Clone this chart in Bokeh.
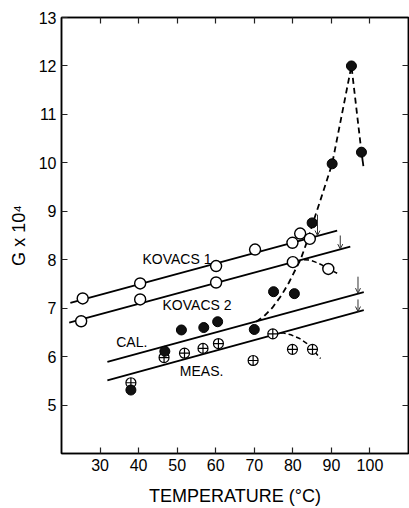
from bokeh.plotting import figure
from bokeh.models import LinearAxis, FixedTicker, Arrow, OpenHead
from bokeh.embed import file_html
from bokeh.resources import INLINE
from bokeh.core.properties import value

# ---- data ----
x_ticks = [30, 40, 50, 60, 70, 80, 90, 100]
y_ticks = [5, 6, 7, 8, 9, 10, 11, 12, 13]

kov1_x = [25.5, 40.4, 60.1, 70.2, 79.9, 81.9, 84.4]
kov1_y = [7.20, 7.51, 7.87, 8.21, 8.35, 8.54, 8.43]
kov2_x = [25.1, 40.4, 60.1, 80.0, 89.2]
kov2_y = [6.73, 7.18, 7.53, 7.95, 7.81]

dark_x = [38.0, 46.8, 51.1, 56.9, 60.5, 70.0, 75.0, 80.4, 85.0, 90.2, 95.2, 97.8]
dark_y = [5.31, 6.11, 6.55, 6.60, 6.72, 6.56, 7.34, 7.30, 8.76, 9.98, 12.0, 10.22]

cross_x = [38.0, 46.6, 51.9, 56.7, 60.7, 69.7, 74.8, 79.9, 85.1]
cross_y = [5.46, 5.98, 6.07, 6.17, 6.27, 5.92, 6.47, 6.15, 6.15]

kov1_line_x = [22.3, 91.5]
kov1_line_y = [7.11, 8.60]
kov2_line_x = [22.0, 94.9]
kov2_line_y = [6.70, 8.27]
cal_line_x = [31.9, 98.4]
cal_line_y = [5.89, 7.33]
meas_line_x = [31.9, 98.4]
meas_line_y = [5.51, 6.96]

peak_x = [70.5, 72.5, 74.7, 77.0, 79.0, 80.7, 82.0, 83.7, 85.5, 87.2, 90.2, 95.2, 97.8]
peak_y = [6.72, 6.83, 7.01, 7.26, 7.53, 7.80, 8.00, 8.38, 8.83, 9.24, 9.98, 12.0, 10.22]
tail_x = [97.8, 98.3]
tail_y = [10.22, 9.93]

kov2_dash_x = [82.9, 84.5, 85.9, 87.6, 89.2, 91.5]
kov2_dash_y = [8.00, 7.99, 7.95, 7.89, 7.81, 7.72]

meas_dash_x = [74.8, 77.3, 79.5, 81.6, 83.5, 85.1, 87.2]
meas_dash_y = [6.47, 6.49, 6.45, 6.38, 6.28, 6.15, 5.96]

arrow_x = [86.4, 92.3, 96.9, 96.9]
arrow_y0 = [8.93, 8.50, 7.65, 7.18]
arrow_y1 = [8.50, 8.22, 7.31, 6.93]

curve_labels = ["KOVACS 1", "KOVACS 2", "CAL.", "MEAS."]
label_x = [41.0, 46.2, 34.2, 50.7]
label_y = [8.01, 7.06, 6.31, 5.70]

FONT = "Liberation Sans"

p = figure(width=409, height=508, x_range=(20, 110), y_range=(4, 13),
           output_backend="svg", toolbar_location=None,
           min_border_left=61, min_border_right=1, min_border_top=17,
           min_border_bottom=55)
p.grid.visible = False
p.outline_line_color = "black"
p.outline_line_width = 1.5
p.background_fill_color = "white"
p.border_fill_color = "white"

def style_axis(ax, ticks, show_labels):
    ax.ticker = FixedTicker(ticks=ticks)
    ax.major_tick_in = 6
    ax.major_tick_out = 0
    ax.minor_tick_in = 0
    ax.minor_tick_out = 0
    ax.axis_line_color = "black"
    ax.axis_line_width = 1.5
    ax.major_tick_line_width = 1.2
    ax.major_tick_line_color = "#222"
    if show_labels:
        ax.major_label_text_font = FONT
        ax.major_label_text_font_size = "16px"
        ax.major_label_text_color = "black"
        ax.major_label_standoff = 5
    else:
        ax.major_label_text_font_size = "1px"
        ax.major_label_text_color = None
        ax.major_label_standoff = 0

style_axis(p.xaxis[0], x_ticks, True)
style_axis(p.yaxis[0], y_ticks, True)
p.xaxis[0].axis_label = "TEMPERATURE (°C)"
p.xaxis[0].axis_label_text_font = FONT
p.xaxis[0].axis_label_text_font_size = "18px"
p.xaxis[0].axis_label_text_font_style = "normal"
p.xaxis[0].axis_label_text_color = "black"
p.xaxis[0].axis_label_standoff = 12

p.yaxis[0].axis_label = "G x 10⁴"
p.yaxis[0].axis_label_text_font = FONT
p.yaxis[0].axis_label_text_font_size = "18px"
p.yaxis[0].axis_label_text_font_style = "normal"
p.yaxis[0].axis_label_text_color = "black"
p.yaxis[0].axis_label_standoff = 7

top = LinearAxis()
style_axis(top, x_ticks, False)
p.add_layout(top, "above")
right = LinearAxis()
style_axis(right, y_ticks[:-1], False)
p.add_layout(right, "right")

# straight fitted lines
for lx, ly in [(kov1_line_x, kov1_line_y), (kov2_line_x, kov2_line_y),
               (cal_line_x, cal_line_y), (meas_line_x, meas_line_y)]:
    p.line(lx, ly, line_color="black", line_width=1.8)

# dashed curves
p.line(peak_x, peak_y, line_color="black", line_width=1.8, line_dash="6 4")
p.line(tail_x, tail_y, line_color="black", line_width=1.8)
p.line(kov2_dash_x, kov2_dash_y, line_color="black", line_width=1.5, line_dash="5 3")
p.line(meas_dash_x, meas_dash_y, line_color="black", line_width=1.5, line_dash="5 3")

# markers
p.scatter(kov1_x, kov1_y, marker="circle", size=11, fill_color="white",
          line_color="black", line_width=1.4)
p.scatter(kov2_x, kov2_y, marker="circle", size=11, fill_color="white",
          line_color="black", line_width=1.4)
p.scatter(cross_x, cross_y, marker="circle_cross", size=10, fill_color="white",
          line_color="black", line_width=1.2)
p.scatter(dark_x, dark_y, marker="circle", size=10, fill_color="#111111",
          line_color="black", line_width=1.0)

# arrows
for ax_, y0, y1 in zip(arrow_x, arrow_y0, arrow_y1):
    p.add_layout(Arrow(end=OpenHead(size=5, line_width=1, line_color="#333"),
                       x_start=ax_, y_start=y0, x_end=ax_, y_end=y1,
                       line_width=1, line_color="#333"))

# curve labels
p.text(label_x, label_y, text=curve_labels, text_font=value(FONT),
       text_font_size="14px", text_align="left", text_baseline="middle",
       text_color="black")

open("out.html", "w").write(file_html(p, INLINE))
